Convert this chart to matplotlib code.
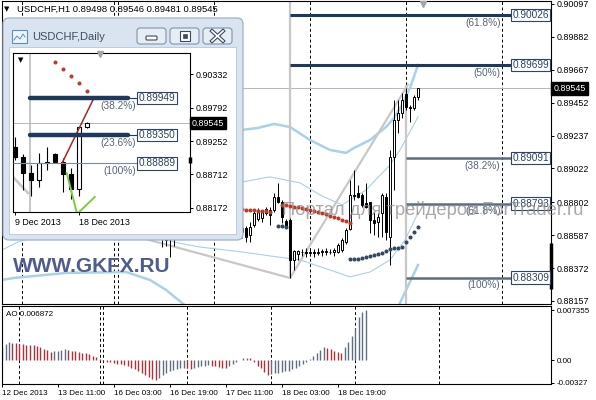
import numpy as np
import matplotlib.pyplot as plt
import matplotlib.transforms as mtransforms
from matplotlib.patches import FancyBboxPatch, Rectangle

plt.rcParams['font.family'] = ['Liberation Sans', 'DejaVu Sans']

# ---------------- H1 chart, bar 0 = 12 Dec 19:00 (bars hidden by the window left out)
h1_bar = np.arange(40, 105)
h1_open = [0.88608, 0.88555, 0.88582, 0.88569, 0.88595, 0.88621, 0.88653, 0.88686, 0.88712, 0.88699,
           0.88725, 0.88751, 0.88738, 0.88764, 0.88738, 0.88712, 0.88686, 0.88660, 0.88647, 0.88621,
           0.88608, 0.88634, 0.88588, 0.88653, 0.88692, 0.88699, 0.88758, 0.88751, 0.88751, 0.88836,
           0.88804, 0.88679, 0.88686, 0.88425, 0.88464, 0.88477, 0.88477, 0.88470, 0.88477, 0.88470,
           0.88477, 0.88483, 0.88477, 0.88477, 0.88477, 0.88490, 0.88542, 0.88627, 0.88849, 0.88862,
           0.88849, 0.88797, 0.88804, 0.88686, 0.88673, 0.88732, 0.88836, 0.88575, 0.89098, 0.89339,
           0.89385, 0.89509, 0.89424, 0.89418, 0.89489]
h1_high = [0.88653, 0.88634, 0.88621, 0.88608, 0.88634, 0.88673, 0.88699, 0.88725, 0.88751, 0.88738,
           0.88764, 0.88790, 0.88777, 0.88804, 0.88777, 0.88751, 0.88725, 0.88699, 0.88686, 0.88660,
           0.88647, 0.88647, 0.88673, 0.88745, 0.88764, 0.88751, 0.88771, 0.88771, 0.88862, 0.88928,
           0.88817, 0.88692, 0.88699, 0.88490, 0.88490, 0.88496, 0.88503, 0.88496, 0.88496, 0.88503,
           0.88496, 0.88503, 0.88496, 0.88503, 0.88536, 0.88569, 0.88634, 0.88947, 0.89013, 0.88915,
           0.88862, 0.88928, 0.88804, 0.88738, 0.88732, 0.88862, 0.88862, 0.89143, 0.89470, 0.89470,
           0.89516, 0.89548, 0.89437, 0.89502, 0.89548]
h1_low = [0.88509, 0.88516, 0.88444, 0.88516, 0.88569, 0.88588, 0.88621, 0.88647, 0.88673, 0.88660,
          0.88686, 0.88712, 0.88699, 0.88725, 0.88686, 0.88660, 0.88634, 0.88608, 0.88582, 0.88569,
          0.88569, 0.88542, 0.88542, 0.88640, 0.88679, 0.88673, 0.88719, 0.88653, 0.88738, 0.88797,
          0.88666, 0.88634, 0.88307, 0.88359, 0.88425, 0.88451, 0.88444, 0.88451, 0.88444, 0.88457,
          0.88451, 0.88457, 0.88464, 0.88451, 0.88470, 0.88477, 0.88529, 0.88621, 0.88817, 0.88830,
          0.88771, 0.88764, 0.88601, 0.88588, 0.88575, 0.88575, 0.88555, 0.88392, 0.88882, 0.89254,
          0.89352, 0.89404, 0.89326, 0.89404, 0.89470]
h1_close = [0.88582, 0.88582, 0.88569, 0.88595, 0.88621, 0.88653, 0.88686, 0.88712, 0.88699, 0.88725,
            0.88751, 0.88738, 0.88764, 0.88738, 0.88712, 0.88686, 0.88660, 0.88647, 0.88621, 0.88608,
            0.88634, 0.88575, 0.88640, 0.88732, 0.88745, 0.88738, 0.88732, 0.88719, 0.88836, 0.88804,
            0.88706, 0.88640, 0.88425, 0.88483, 0.88483, 0.88477, 0.88470, 0.88477, 0.88470, 0.88477,
            0.88483, 0.88477, 0.88477, 0.88490, 0.88523, 0.88555, 0.88621, 0.88849, 0.88845, 0.88836,
            0.88784, 0.88771, 0.88686, 0.88666, 0.88706, 0.88849, 0.88608, 0.89098, 0.89339, 0.89385,
            0.89470, 0.89424, 0.89418, 0.89489, 0.89545]

# channel lines (bar, price)
up_thick_x = [56, 60, 64, 68, 72, 77, 82, 86, 88, 92, 96, 98, 100, 102, 104]
up_thick_y = [0.89270, 0.89274, 0.89287, 0.89313, 0.89293, 0.89208, 0.89143, 0.89124, 0.89156,
              0.89208, 0.89293, 0.89352, 0.89437, 0.89548, 0.89698]
up_thin_x = [56, 60, 67, 74.5, 79.5, 85, 91, 97, 99.5, 104]
up_thin_y = [0.88940, 0.88934, 0.88967, 0.88928, 0.88849, 0.88784, 0.88882, 0.89045, 0.89143, 0.89359]
lo_thin_x = [0, 4, 10, 25, 35, 41, 44, 49.5, 60, 67, 74.5, 82, 87, 92, 97, 100.75, 104]
lo_thin_y = [0.88490, 0.88542, 0.88588, 0.88634, 0.88608, 0.88555, 0.88536, 0.88509, 0.88477, 0.88451,
             0.88425, 0.88359, 0.88314, 0.88346, 0.88425, 0.88555, 0.88732]
lo_thick_x = [0, 3, 16, 31, 37, 41, 45, 50, 60, 75, 90, 98, 99.5, 104]
lo_thick_y = [0.88294, 0.88307, 0.88340, 0.88346, 0.88294, 0.88229, 0.88144, 0.88033, 0.87935,
              0.87870, 0.87900, 0.88033, 0.88144, 0.88392]

red_dots1_x = np.arange(56, 68)
red_dots1 = [0.88761, 0.88760, 0.88758, 0.88757, 0.88755, 0.88753, 0.88751, 0.88749, 0.88747,
             0.88745, 0.88742, 0.88740]
red_dots2_x = np.arange(70, 88)
red_dots2 = [0.88784, 0.88781, 0.88777, 0.88771, 0.88768, 0.88764, 0.88758, 0.88751, 0.88745,
             0.88738, 0.88732, 0.88725, 0.88715, 0.88706, 0.88696, 0.88686, 0.88676, 0.88666]
blue_dots1_x = [69, 70, 71]
blue_dots1 = [0.88645, 0.88645, 0.88642]
blue_dots2_x = np.arange(87, 105)
blue_dots2 = [0.88431, 0.88431, 0.88434, 0.88438, 0.88444, 0.88451, 0.88457, 0.88464, 0.88470,
              0.88483, 0.88496, 0.88503, 0.88503, 0.88509, 0.88542, 0.88575, 0.88608, 0.88640]

trend_x = [30, 72, 101.5]
trend_y = [0.88603, 0.88307, 0.89570]
anchor_bars = [72, 101]

fib_top = [0.90026, 0.89699]
fib_top_names = ['(61.8%)', '(50%)']
fib_low = [0.89091, 0.88793, 0.88309]
fib_low_names = ['(38.2%)', '(61.8%)', '(100%)']

separators = [5, 28, 29, 53, 77, 101, 125]
price_ticks = [0.90097, 0.89882, 0.89667, 0.89452, 0.89237, 0.89022, 0.88802, 0.88587, 0.88372, 0.88157]
last_price = 0.89545
edge_mark = [0.88235, 0.88536]

# ---------------- Awesome oscillator, bars 0..104
ao_val = [0.0020, 0.0024, 0.0027, 0.0026, 0.0025, 0.0024, 0.00235, 0.0023, 0.00225, 0.0022,
          0.0021, 0.0019, 0.0017, 0.0015, 0.0012, 0.0013, 0.0014, 0.0015, 0.0016, 0.0015,
          0.0014, 0.0013, 0.0012, 0.0011, 0.0010, 0.0009, 0.0007, 0.0005, 0.0002, -0.0001,
          -0.0002, -0.0003, -0.0004, -0.0005, -0.0006, -0.0007, -0.0009, -0.0011, -0.0013, -0.0015,
          -0.0018, -0.0021, -0.0024, -0.0027, -0.0029, -0.0026, -0.0022, -0.0019, -0.0016, -0.0014,
          -0.0013, -0.0012, -0.0011, -0.0012, -0.0013, -0.0011, -0.0010, -0.0009, -0.0008, -0.0007,
          -0.0008, -0.0009, -0.0010, -0.0011, -0.0012, -0.0009, -0.0006, -0.0003, 0.0001, 0.0003,
          0.0004, 0.0003, -0.0003, -0.0008, -0.0012, -0.0017, -0.0021, -0.0020, -0.0019, -0.0018,
          -0.0017, -0.0016, -0.0015, -0.0013, -0.0011, -0.0009, -0.0006, -0.0003, 0.0002, 0.0006,
          0.0011, 0.0015, 0.0019, 0.0018, 0.0016, 0.0014, 0.0012, 0.0011, 0.0019, 0.0027,
          0.0036, 0.0048, 0.0064, 0.0070, 0.00735]
ao_ticks = [0.007355, 0.0, -0.00327]
ao_tick_labels = ['0.007355', '0.00', '-0.00327']
date_bars = [0, 16, 32, 48, 64, 80, 96]
date_labels = ['12 Dec 2013', '13 Dec 11:00', '16 Dec 03:00', '16 Dec 19:00',
               '17 Dec 11:00', '18 Dec 03:00', '18 Dec 19:00']

# ---------------- Daily chart in the window, 0 = 9 Dec 2013
d_idx = np.arange(10)
d_open = [0.89156, 0.88994, 0.88734, 0.88621, 0.88913, 0.89042, 0.88913, 0.88718, 0.88475, 0.89480]
d_high = [0.89318, 0.89042, 0.88864, 0.89059, 0.89161, 0.89059, 0.88977, 0.88815, 0.89480, 0.89561]
d_low = [0.88945, 0.88459, 0.88361, 0.88507, 0.88783, 0.88900, 0.88426, 0.88309, 0.88361, 0.89470]
d_close = [0.88994, 0.88734, 0.88621, 0.88896, 0.88896, 0.88913, 0.88718, 0.88475, 0.89480, 0.89545]
d_ticks = [0.90332, 0.89792, 0.89252, 0.88712, 0.88172]
d_date_idx = [0, 8]
d_date_labels = ['9 Dec 2013', '18 Dec 2013']
d_fib = [0.89949, 0.89350, 0.88889]
d_fib_names = ['(38.2%)', '(23.6%)', '(100%)']
d_sar_x = [5, 6, 7, 8, 9]
d_sar = [0.90534, 0.90421, 0.90307, 0.90194, 0.90064]
d_red_x = [5.9, 9.9]
d_red = [0.88889, 0.89950]
d_green_x = [6.5, 7.8, 10.0]
d_green = [0.88734, 0.88070, 0.88345]
d_gray_x = [-0.6, 1.66]
d_gray = [0.88723, 0.88410]
d_vline = 1.9
d_edge_mark = [0.88896, 0.88994]

NAVY = '#1d3a5c'
SLATE = '#5d6d7e'
LBLUE = '#a9d1e8'
LGRAY = '#c8c8c8'

fig = plt.figure(figsize=(5.96, 4.0), dpi=100)
pix = mtransforms.Affine2D().scale(1.0 / 596, -1.0 / 400).translate(0, 1) + fig.transFigure


def box(x0, y0, x1, y1):
    return [x0 / 596, 1 - y1 / 400, (x1 - x0) / 596, (y1 - y0) / 400]


def candles(ax, x, o, h, l, c, width, lw):
    o, h, l, c = map(np.asarray, (o, h, l, c))
    ax.vlines(x, l, h, color='black', lw=lw, zorder=3)
    up = c >= o
    height = np.maximum(np.abs(c - o), 0.000015)
    ax.bar(x, height, bottom=np.minimum(o, c), width=width,
           color=np.where(up, 'white', 'black'), edgecolor='black', lw=lw, zorder=3)


# ================= main H1 panel
ax = fig.add_axes(box(2, 1, 551, 304))
ax.set_xlim(0, 137.25)
ax.set_ylim(0.88137, 0.90116)
ax.set_xticks([])
ax.yaxis.tick_right()
ax.set_yticks(price_ticks)
ax.set_yticklabels([f'{v:.5f}' for v in price_ticks])
ax.tick_params(axis='y', length=2.5, width=0.7, pad=1.5, labelsize=6.4)
for s in ax.spines.values():
    s.set_linewidth(0.8)

for b in separators:
    ax.axvline(b, color='black', lw=0.7, ls=(0, (3, 2.5)), zorder=1)
ax.axhline(last_price, color='#b8b8b8', lw=0.7, zorder=1)

ax.plot(up_thick_x, up_thick_y, color=LBLUE, lw=1.8, zorder=2)
ax.plot(lo_thick_x, lo_thick_y, color=LBLUE, lw=1.8, zorder=2)
ax.plot(up_thin_x, up_thin_y, color=LBLUE, lw=0.8, zorder=2)
ax.plot(lo_thin_x, lo_thin_y, color=LBLUE, lw=0.8, zorder=2)
ax.plot(trend_x, trend_y, color=LGRAY, lw=1.6, zorder=2)
ax.vlines(anchor_bars[0], fib_low[2], 0.90116, color=LGRAY, lw=1.6, zorder=2)
ax.vlines(anchor_bars[1], 0.88137, trend_y[2], color=LGRAY, lw=1.6, zorder=2)

candles(ax, h1_bar, h1_open, h1_high, h1_low, h1_close, 0.7, 0.7)

ax.plot(red_dots1_x, red_dots1, 'o', ms=1.9, color='#c0392b', zorder=4)
ax.plot(red_dots2_x, red_dots2, 'o', ms=1.9, color='#c0392b', zorder=4)
ax.plot(blue_dots1_x, blue_dots1, 'o', ms=1.9, color='#34495e', zorder=4)
ax.plot(blue_dots2_x, blue_dots2, 'o', ms=1.9, color='#34495e', zorder=4)

bbox_lbl = dict(boxstyle='square,pad=0.12', fc='white', ec='#2e4460', lw=0.8)
for lev, name in zip(fib_top, fib_top_names):
    ax.hlines(lev, anchor_bars[0], 137.25, color=NAVY, lw=2.2, zorder=4)
    ax.text(136.8, lev, f'{lev:.5f}', ha='right', va='center', fontsize=7.3,
            color='#2e4460', bbox=bbox_lbl, zorder=6)
    ax.annotate(name, (124.6, lev), xytext=(0, -2), textcoords='offset points',
                ha='right', va='top', fontsize=7.3, color='#56657a', zorder=6)
for lev, name in zip(fib_low, fib_low_names):
    ax.hlines(lev, anchor_bars[1], 137.25, color=SLATE, lw=1.8, zorder=4)
    ax.text(136.8, lev, f'{lev:.5f}', ha='right', va='center', fontsize=7.3,
            color='#2e4460', bbox=bbox_lbl, zorder=6)
    ax.annotate(name, (124.6, lev), xytext=(0, -2), textcoords='offset points',
                ha='right', va='top', fontsize=7.3, color='#56657a', zorder=6)

blend = mtransforms.blended_transform_factory(ax.transAxes, ax.transData)
ax.text(1.004, last_price, f'{last_price:.5f}', transform=blend, ha='left', va='center',
        color='white', fontsize=6.4, clip_on=False,
        bbox=dict(boxstyle='square,pad=0.22', fc='black', ec='black'))
ax.plot([137.25, 137.25], edge_mark, color='black', lw=2.5, clip_on=False,
        solid_capstyle='butt', zorder=5)
ax.plot(105.3, 0.90095, marker='v', ms=5, color='#a6a6a6', clip_on=False, zorder=5)

# ================= AO panel
ax_ao = fig.add_axes(box(2, 306, 551, 384))
ao_x = np.arange(len(ao_val))
ao_arr = np.array(ao_val)
ao_up = np.r_[True, np.diff(ao_arr) >= 0]
ax_ao.vlines(ao_x, 0, ao_arr, colors=np.where(ao_up, '#5f6f80', '#b0303a'), lw=1.0)
ax_ao.set_xlim(0, 549 / 3.5)
ax_ao.set_ylim(-0.00347, 0.00795)
for b in separators:
    ax_ao.axvline(b, color='black', lw=0.7, ls=(0, (3, 2.5)), zorder=1)
ax_ao.yaxis.tick_right()
ax_ao.set_yticks(ao_ticks)
ax_ao.set_yticklabels(ao_tick_labels)
ax_ao.set_xticks(date_bars)
ax_ao.set_xticklabels(date_labels, ha='left')
ax_ao.tick_params(axis='both', length=2.5, width=0.7, pad=1.5, labelsize=5.8)
for s in ax_ao.spines.values():
    s.set_linewidth(0.8)
fig.text(6, 315, 'AO 0.006872', transform=pix, fontsize=5.8, va='center', zorder=3)

# ================= header and watermarks
fig.text(4, 9, '▼', transform=pix, fontsize=5, va='center', family='DejaVu Sans')
fig.text(17, 9, 'USDCHF,H1 0.89498 0.89546 0.89481 0.89545', transform=pix,
         fontsize=6.8, va='center')
fig.text(13, 267, 'WWW.GKFX.RU', transform=pix, fontsize=15, fontweight='bold',
         color='#4e5d8e', va='center', zorder=3)
fig.text(282, 210, 'Портал для трейдеров ForTrader.ru', transform=pix, fontsize=13.2,
         color='#8c8c8c', alpha=0.75, va='center', zorder=3)

# ================= daily window
win = FancyBboxPatch((3, 18), 240, 222, boxstyle='round,pad=0,rounding_size=6',
                     transform=pix, fc='#d9e4f0', ec='#9fb2c6', lw=0.9, zorder=5)
fig.add_artist(win)
fig.add_artist(Rectangle((9, 47), 227, 187, transform=pix, fc='white', ec='#b6c6d6',
                         lw=0.6, zorder=5))
fig.add_artist(Rectangle((12, 30), 15, 13, transform=pix, fc='#eef4fa', ec='#5a8fc4',
                         lw=0.8, zorder=6))
fig.add_artist(plt.Line2D([14, 17, 20, 23, 25], [40, 36, 39, 34, 37], transform=pix,
                          color='#5a8fc4', lw=0.7, zorder=7))
fig.text(32, 37, 'USDCHF,Daily', transform=pix, fontsize=8, color='#3d4d60',
         va='center', zorder=6)
for bx in (137, 170, 203):
    fig.add_artist(FancyBboxPatch((bx, 28), 29, 16, boxstyle='round,pad=0,rounding_size=3',
                                  transform=pix, fc='#e6edf5', ec='#8193a8', lw=0.8, zorder=6))
fig.add_artist(FancyBboxPatch((146, 36), 11, 4, boxstyle='round,pad=0,rounding_size=1',
                              transform=pix, fc='white', ec='#3c4c5e', lw=0.8, zorder=7))
fig.add_artist(Rectangle((180, 31), 10, 10, transform=pix, fc='white', ec='#3c4c5e',
                         lw=0.8, zorder=7))
fig.add_artist(Rectangle((183, 34), 4, 4, transform=pix, fc='#3c4c5e', ec='#3c4c5e',
                         lw=0.5, zorder=7))
for lw, col, zz in ((2.8, '#3c4c5e', 7), (1.2, 'white', 8)):
    fig.add_artist(plt.Line2D([212, 223], [31, 41], transform=pix, color=col, lw=lw, zorder=zz))
    fig.add_artist(plt.Line2D([212, 223], [41, 31], transform=pix, color=col, lw=lw, zorder=zz))

ax_d = fig.add_axes(box(13, 53, 190, 212))
ax_d.set_zorder(10)
ax_d.set_xlim(-0.2125, 21.91)
ax_d.set_ylim(0.88102, 0.90680)
ax_d.yaxis.tick_right()
ax_d.set_yticks(d_ticks)
ax_d.set_yticklabels([f'{v:.5f}' for v in d_ticks])
ax_d.set_xticks(d_date_idx)
ax_d.set_xticklabels(d_date_labels, ha='left')
ax_d.tick_params(axis='both', length=2.5, width=0.7, pad=1.5, labelsize=6.4)
for s in ax_d.spines.values():
    s.set_linewidth(0.8)

ax_d.axvline(d_vline, color=LGRAY, lw=1.5, zorder=1)
ax_d.axhline(last_price, color='#b8b8b8', lw=0.7, zorder=1)
ax_d.plot(d_gray_x, d_gray, color=LGRAY, lw=1.8, zorder=1)
candles(ax_d, d_idx, d_open, d_high, d_low, d_close, 0.55, 0.8)
ax_d.plot(d_red_x, d_red, color='#b22222', lw=1.1, zorder=4)
ax_d.plot(d_green_x, d_green, color='#7ccd3c', lw=1.4, zorder=4)
ax_d.plot(d_sar_x, d_sar, 'o', ms=1.9, color='#c0392b', zorder=4)

for k, (lev, name) in enumerate(zip(d_fib, d_fib_names)):
    if k < 2:
        ax_d.hlines(lev, d_vline, 14.2, color=NAVY, lw=3.2, capstyle='round', zorder=4)
        ax_d.hlines(lev, 14.2, 15.45, color=NAVY, lw=0.8, zorder=4)
    else:
        ax_d.hlines(lev, -0.2125, 15.45, color='#7d8b99', lw=0.8, zorder=4)
    ax_d.text(15.5, lev, f'{lev:.5f}', ha='left', va='center', fontsize=7.3,
              color='#2e4460', bbox=bbox_lbl, zorder=6)
    ax_d.annotate(name, (15.2, lev), xytext=(0, -2), textcoords='offset points',
                  ha='right', va='top', fontsize=7.3, color='#56657a', zorder=6)

blend_d = mtransforms.blended_transform_factory(ax_d.transAxes, ax_d.transData)
ax_d.text(1.012, last_price, f'{last_price:.5f}', transform=blend_d, ha='left', va='center',
          color='white', fontsize=6.4, clip_on=False,
          bbox=dict(boxstyle='square,pad=0.22', fc='black', ec='black'))
ax_d.plot([21.91, 21.91], d_edge_mark, color='black', lw=2.5, clip_on=False,
          solid_capstyle='butt', zorder=5)
ax_d.plot(10.7, 0.9066, marker='v', ms=5, color='#a6a6a6', clip_on=False, zorder=5)
ax_d.text(0.03, 0.955, '▼', transform=ax_d.transAxes, fontsize=5, va='center',
          family='DejaVu Sans')

fig.savefig('out.png', dpi=100, facecolor='white')
